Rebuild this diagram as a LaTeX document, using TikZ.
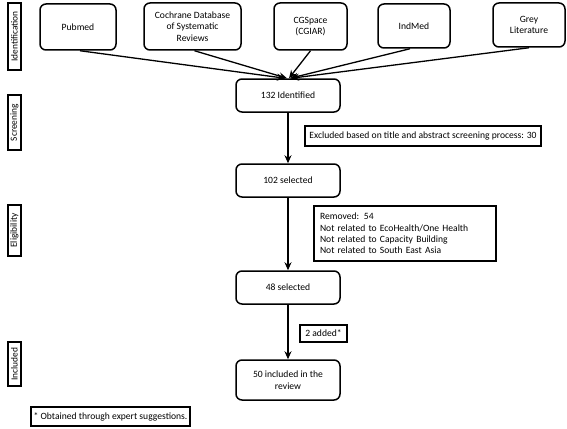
\documentclass[tikz,border=0pt]{standalone}
\usepackage{fontspec}
\setmainfont{Carlito}
\usetikzlibrary{arrows.meta}
\begin{document}
\begin{tikzpicture}[x=1pt,y=-1pt,
  font=\fontsize{9.6}{11.4}\selectfont,
  rbox/.style={draw,line width=1.5pt,rounded corners=6pt,align=center,inner sep=2pt},
  sbox/.style={draw,line width=1.4pt,inner sep=2pt},
  lab/.style={draw,line width=1.4pt,rotate=90,inner sep=0pt,minimum height=13pt,font=\fontsize{9.4}{10}\selectfont},
  arr/.style={line width=1.3pt,-{Stealth[length=8pt,width=7pt]}}]
\useasboundingbox (0,0) rectangle (567,428);
% stage labels
\node[lab,minimum width=67pt] (lid) at (14.5,36.5) {Identification};
\node[lab,minimum width=55pt] (lsc) at (14.5,122.5) {Screening};
\node[lab,minimum width=51pt] (lel) at (14.5,230.5) {Eligibility};
\node[lab,minimum width=44pt] (lin) at (14.5,364) {Included};
% sources
\node[rbox,minimum width=76pt,minimum height=46pt] (pub) at (78,27) {Pubmed};
\node[rbox,minimum width=97pt,minimum height=47pt] (coch) at (192.5,26.5) {Cochrane Database\\of Systematic\\Reviews};
\node[rbox,minimum width=73pt,minimum height=47pt] (cgs) at (310.5,26.5) {CGSpace\\(CGIAR)};
\node[rbox,minimum width=72pt,minimum height=44pt] (ind) at (414,26) {IndMed};
\node[rbox,minimum width=72pt,minimum height=44pt] (grey) at (529,25) {Grey\\Literature};
% flow
\node[rbox,minimum width=104pt,minimum height=33pt] (ident) at (288,95.5) {132 Identified};
\node[sbox,minimum width=236pt,minimum height=20pt] (excl) at (423,136) {Excluded based on title and abstract screening process: 30};
\node[rbox,minimum width=104pt,minimum height=33pt] (s102) at (288,180.5) {102 selected};
\node[sbox,minimum width=182pt,minimum height=55pt,align=left,text width=170pt,inner sep=5pt] (rem) at (405,233.5) {Removed: 54\\Not related to EcoHealth/One Health\\Not related to Capacity Building\\Not related to South East Asia};
\node[rbox,minimum width=104pt,minimum height=33pt] (s48) at (288,287.5) {48 selected};
\node[sbox,minimum width=47pt,minimum height=17pt] (add) at (323.5,333.5) {2 added*};
\node[rbox,minimum width=104pt,minimum height=40pt] (inc) at (288,380) {50 included in the\\review};
\node[sbox,minimum width=159pt,minimum height=19pt] (foot) at (110.5,416.5) {* Obtained through expert suggestions.};
% connectors
\coordinate (t1) at ([xshift=-3pt]ident.north);
\coordinate (t2) at ([xshift=-1pt]ident.north);
\coordinate (t3) at ([xshift=1pt]ident.north);
\coordinate (t4) at ([xshift=2pt]ident.north);
\coordinate (t5) at ([xshift=3pt]ident.north);
\draw[arr] ([xshift=2pt]pub.south) -- (t1);
\draw[arr] ([xshift=2pt]coch.south) -- (t2);
\draw[arr] (cgs.south) -- (t3);
\draw[arr] ([xshift=-4pt]ind.south) -- (t4);
\draw[arr] (grey.south) -- (t5);
\draw[arr] (ident) -- (s102);
\draw[arr] (s102) -- (s48);
\draw[arr] (s48) -- (inc);
\end{tikzpicture}
\end{document}
